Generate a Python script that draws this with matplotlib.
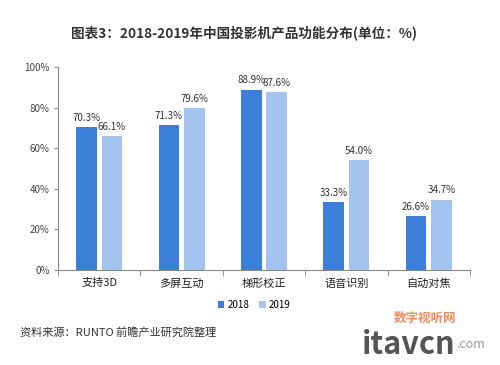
import matplotlib
matplotlib.use("Agg")
import matplotlib.pyplot as plt
import numpy as np

plt.rcParams['font.family'] = ['Noto Sans CJK SC', 'DejaVu Sans']

categories = ['支持3D', '多屏互动', '梯形校正', '语音识别', '自动对焦']
v2018 = [70.3, 71.3, 88.9, 33.3, 26.6]
v2019 = [66.1, 79.6, 87.6, 54.0, 34.7]
yticks = [0, 20, 40, 60, 80, 100]

c18 = '#3b7fd8'
c19 = '#a3c4ee'

fig = plt.figure(figsize=(5, 3.65), dpi=100)
ax = fig.add_axes([58/500, 1-270/365, (470-58)/500, (270-67)/365])

x = np.arange(len(categories))
w = 0.25
gap = 0.03
b1 = ax.bar(x - w/2 - gap, v2018, w, color=c18, label='2018')
b2 = ax.bar(x + w/2 + gap, v2019, w, color=c19, label='2019')
for bars, vals in ((b1, v2018), (b2, v2019)):
    for r, v in zip(bars, vals):
        ax.text(r.get_x() + r.get_width()/2, v + 2, f'{v:.1f}%', ha='center', va='bottom',
                fontsize=7, color='#333333')

ax.set_xlim(-0.5, len(categories) - 0.5)
ax.set_ylim(0, 100)
ax.set_yticks(yticks)
ax.set_yticklabels([f'{t}%' for t in yticks], fontsize=7, color='#444444')
ax.set_xticks(x)
ax.set_xticklabels(categories, fontsize=8, color='#222222')
ax.tick_params(axis='x', length=0, pad=6)
ax.set_xticks(np.arange(-0.5, len(categories)), minor=True)
ax.tick_params(axis='x', which='minor', length=4, color='#888888')
ax.tick_params(axis='y', length=3, color='#888888', pad=3)
for s in ['top', 'right']:
    ax.spines[s].set_visible(False)
for s in ['left', 'bottom']:
    ax.spines[s].set_color('#888888')
    ax.spines[s].set_linewidth(0.8)

fig.text(244/500, 1-33/365, '图表3：2018-2019年中国投影机产品功能分布(单位：%)', ha='center', va='center',
         fontsize=9.8, fontweight='bold', color='#333333')

leg = fig.legend(handles=[b1, b2], labels=['2018', '2019'], loc='center', bbox_to_anchor=(254/500, 1-305/365),
                 ncol=2, frameon=False, fontsize=7, handlelength=0.7, handleheight=0.7,
                 handletextpad=0.3, columnspacing=1.0)

fig.text(20/500, 1-332/365, '资料来源：RUNTO 前瞻产业研究院整理', ha='left', va='center',
         fontsize=8, color='#333333')

fig.text(425/500, 1-318/365, '数字视听网', ha='center', va='center', fontsize=9, color='#f28a5c', fontweight='bold')
fig.text(362/500, 1-345/365, 'itavcn', ha='left', va='center', fontsize=22, color='#555555', fontweight='bold')
fig.text(485/500, 1-345/365, '.com', ha='right', va='center', fontsize=9, color='#999999')

fig.savefig('out.png', dpi=100, facecolor='white')
